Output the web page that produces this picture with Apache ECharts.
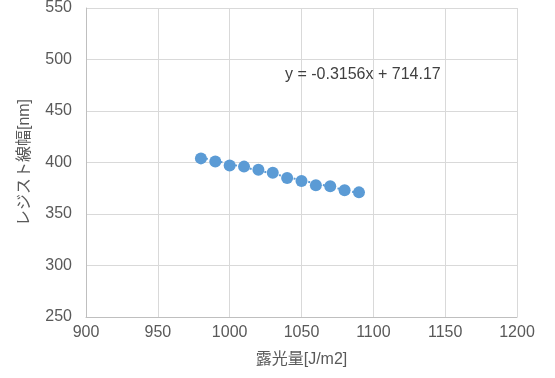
<!DOCTYPE html>
<html><head><meta charset="utf-8">
<script src="https://cdn.jsdelivr.net/npm/echarts@6/dist/echarts.min.js"></script>
<style>html,body{margin:0;padding:0;background:#fff}#c{width:555px;height:378px}</style>
</head><body><div id="c"></div>
<script>
const exposure = [980, 990, 1000, 1010, 1020, 1030, 1040, 1050, 1060, 1070, 1080, 1090];
const linewidth = [404, 401, 397, 396, 393, 390, 385, 382, 378, 377, 373, 371];
const trendSlope = -0.3156;
const trendIntercept = 714.17;
const equationText = 'y = -0.3156x + 714.17';
const xTitle = '露光量[J/m2]';
const yTitle = 'レジスト線幅[nm]';

const font = '"Liberation Sans", Arial, "Noto Sans CJK JP", sans-serif';
const pts = exposure.map((x, i) => [x, linewidth[i]]);
const xs = [exposure[0], exposure[exposure.length - 1]];
const trend = xs.map(x => [x, trendSlope * x + trendIntercept]);

const chart = echarts.init(document.getElementById('c'));
chart.setOption({
  animation: false,
  textStyle: { fontFamily: font },
  grid: { left: 86, right: 38, top: 8, bottom: 61 },
  title: {
    text: equationText, left: 280, top: 62,
    textStyle: { fontSize: 16, fontWeight: 'normal', color: '#404040', fontFamily: font }
  },
  xAxis: {
    type: 'value', min: 900, max: 1200, interval: 50,
    name: xTitle, nameLocation: 'middle', nameGap: 35,
    nameTextStyle: { fontSize: 16, color: '#595959', fontFamily: font },
    axisLine: { lineStyle: { color: '#bfbfbf' } },
    axisTick: { show: false },
    axisLabel: { fontSize: 16, color: '#595959', margin: 8, fontFamily: font, formatter: v => String(v) },
    splitLine: { lineStyle: { color: '#d9d9d9' } }
  },
  yAxis: {
    type: 'value', min: 250, max: 550, interval: 50,
    name: yTitle, nameLocation: 'middle', nameGap: 53, nameRotate: 90,
    nameTextStyle: { fontSize: 16, color: '#595959', fontFamily: font },
    axisLine: { show: true, lineStyle: { color: '#bfbfbf' } },
    axisTick: { show: false },
    axisLabel: { fontSize: 16, color: '#595959', margin: 14, fontFamily: font },
    splitLine: { lineStyle: { color: '#d9d9d9' } }
  },
  series: [
    {
      type: 'line', data: trend, symbol: 'none', z: 1,
      lineStyle: { color: '#5b9bd5', width: 2, type: [2, 3] }
    },
    {
      type: 'scatter', data: pts, symbolSize: 12, z: 2,
      itemStyle: { color: '#5b9bd5', opacity: 1 }
    }
  ]
});
</script></body></html>
